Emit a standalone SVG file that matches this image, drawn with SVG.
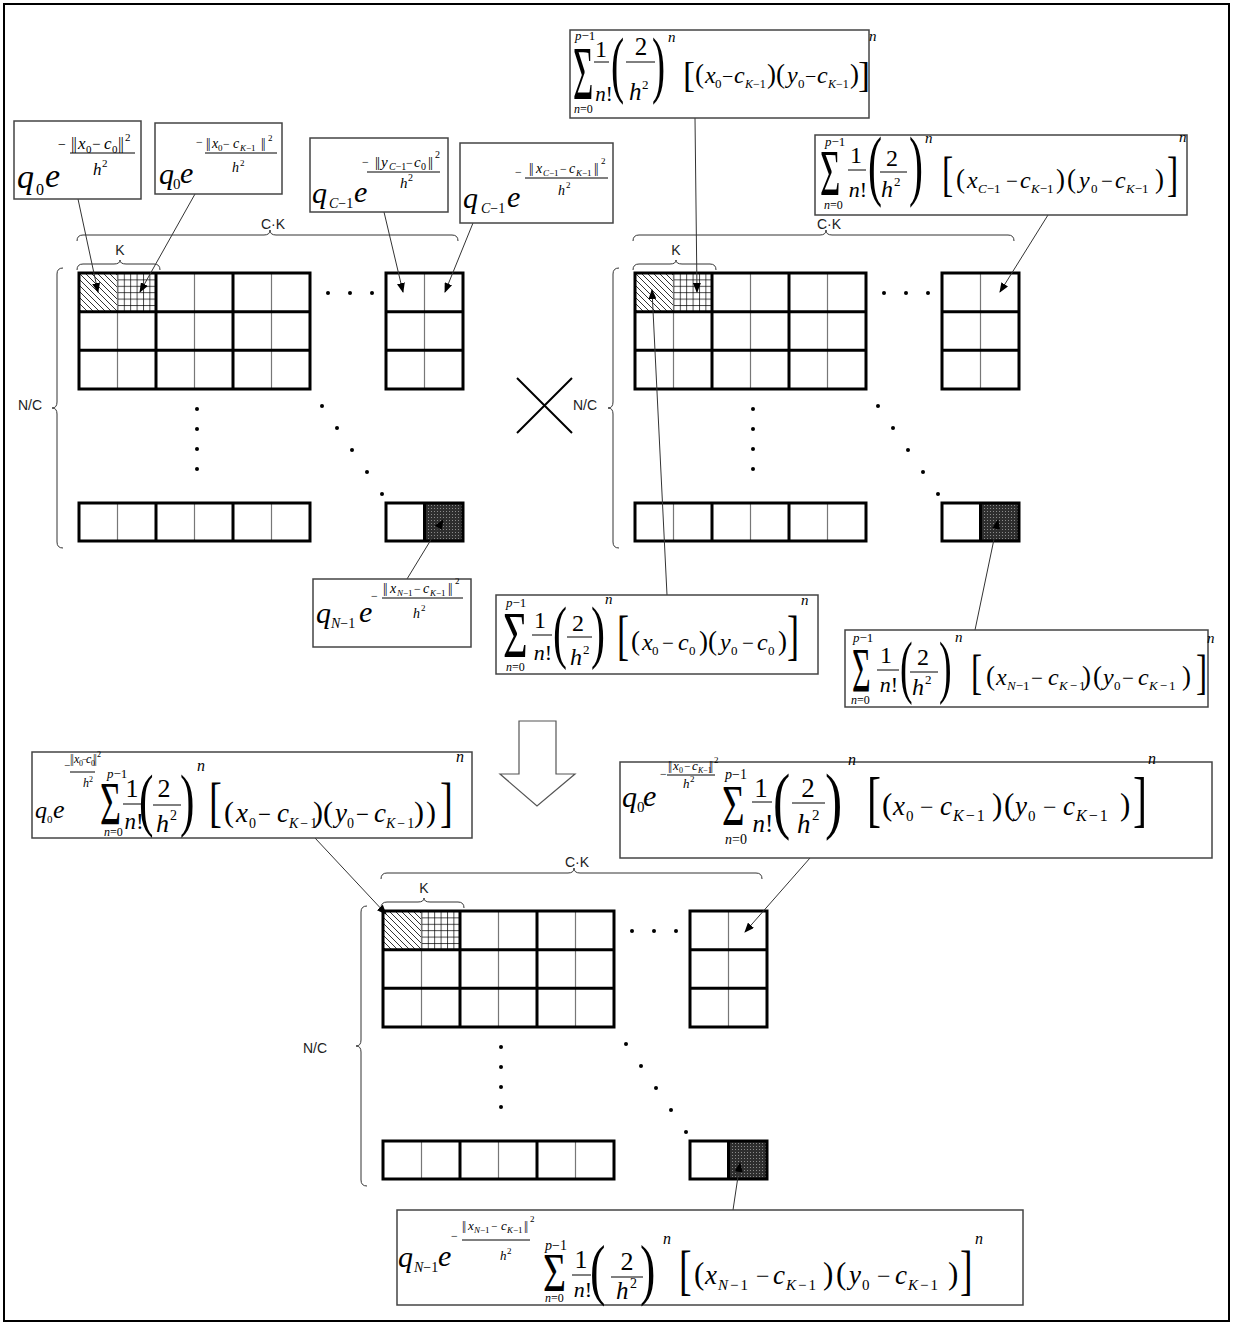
<svg xmlns="http://www.w3.org/2000/svg" xmlns:xlink="http://www.w3.org/1999/xlink" width="1233" height="1325" viewBox="0 0 1233 1325">
<style>
.t{font-family:"Liberation Serif","Times New Roman",serif;fill:#000}
.i{font-style:italic}
.n{font-style:normal}
.nb{letter-spacing:-1px;font-style:normal}
.ks{letter-spacing:2px}
.s{font-family:"Liberation Sans",Arial,sans-serif;font-size:14px;fill:#222}
.box{fill:#fff;stroke:#444;stroke-width:1.5}
.fl{stroke:#000;stroke-width:1}
.ld{stroke:#333;stroke-width:1;fill:none}
.thick{stroke:#000;stroke-width:3;fill:none}
.thin{stroke:#777;stroke-width:1.2;fill:none}
.br{fill:none;stroke:#333;stroke-width:1}
</style>
<defs>
<pattern id="hatch" patternUnits="userSpaceOnUse" width="6" height="6"><path d="M-1,-1L7,7M-1,5L1,7M5,-1L7,1" stroke="#000" stroke-width="0.8"/></pattern>
<pattern id="check" patternUnits="userSpaceOnUse" width="6.4" height="6.4"><path d="M0.5,0V6.4M0,0.5H6.4" stroke="#000" stroke-width="0.7" fill="none"/></pattern>
<pattern id="dark" patternUnits="userSpaceOnUse" width="3" height="3"><rect width="3" height="3" fill="#2e2e2e"/><rect x="1" y="1" width="1" height="1" fill="#8a8a8a"/></pattern>
<marker id="ah" markerWidth="10" markerHeight="8" refX="9" refY="4" orient="auto" markerUnits="userSpaceOnUse"><path d="M0,0L10,4L0,8z" fill="#000"/></marker>
<g id="matrix">
 <rect x="0" y="0" width="38.5" height="38.7" fill="url(#hatch)"/>
 <rect x="38.5" y="0" width="38.5" height="38.7" fill="url(#check)"/>
 <rect x="345.5" y="230" width="38.5" height="38" fill="url(#dark)"/>
 <path class="thin" d="M38.5,0V116M115.5,0V116M192.5,0V116M345.5,0V116M38.5,230V268M115.5,230V268M192.5,230V268"/>
 <path class="thick" d="M0,0H231V116H0ZM77,0V116M154,0V116M0,38.7H231M0,77.3H231M307,0H384V116H307ZM307,38.7H384M307,77.3H384M0,230H231V268H0ZM77,230V268M154,230V268M307,230H384V268H307ZM345.5,230V268"/>
 <g fill="#000">
  <circle cx="249" cy="20" r="2"/><circle cx="271" cy="20" r="2"/><circle cx="293" cy="20" r="2"/>
  <circle cx="118" cy="136" r="2"/><circle cx="118" cy="156" r="2"/><circle cx="118" cy="176" r="2"/><circle cx="118" cy="196" r="2"/>
  <circle cx="243" cy="133" r="2"/><circle cx="258" cy="155" r="2"/><circle cx="273" cy="177" r="2"/><circle cx="288" cy="199" r="2"/><circle cx="303" cy="221" r="2"/>
 </g>
 <path class="br" d="M-2,-32Q-2,-38 4,-38L185,-38Q191,-38 191,-43Q191,-38 197,-38L373,-38Q379,-38 379,-32"/>
 <path class="br" d="M-2,-3Q-2,-9 4,-9L35,-9Q41,-9 41,-13Q41,-9 47,-9L75,-9Q81,-9 81,-3"/>
 <path class="br" d="M-16,-5Q-22,-5 -22,1L-22,129Q-22,135 -27,135Q-22,135 -22,141L-22,269Q-22,275 -16,275"/>
 <text class="s" x="194" y="-44" text-anchor="middle">C·K</text>
 <text class="s" x="41" y="-18" text-anchor="middle">K</text>
</g>
</defs>

<rect x="4" y="4" width="1225" height="1317" fill="#fff" stroke="#000" stroke-width="2"/>

<g id="grid1" transform="translate(79,273)"><use xlink:href="#matrix"/></g>
<text class="s" x="18" y="410">N/C</text>
<g id="grid2" transform="translate(635,273)"><use xlink:href="#matrix"/></g>
<text class="s" x="573" y="410">N/C</text>
<g id="grid3" transform="translate(383,911)"><use xlink:href="#matrix"/></g>
<text class="s" x="303" y="1053">N/C</text>

<g id="times"><path d="M517,378L572,433M572,378L517,433" stroke="#000" stroke-width="2"/></g>
<g id="downarrow"><path d="M519,721H556V774H575L537,806L500,774H519Z" fill="#fff" stroke="#555" stroke-width="1.2"/></g>

<g id="connectors" class="ld">
 <line x1="78" y1="199" x2="98" y2="292" marker-end="url(#ah)"/>
 <line x1="195" y1="194" x2="140" y2="292" marker-end="url(#ah)"/>
 <line x1="384" y1="212" x2="403" y2="292" marker-end="url(#ah)"/>
 <line x1="473" y1="223" x2="445" y2="292" marker-end="url(#ah)"/>
 <line x1="695" y1="118" x2="697" y2="292" marker-end="url(#ah)"/>
 <line x1="1048" y1="215" x2="1000" y2="292" marker-end="url(#ah)"/>
 <line x1="407" y1="579" x2="443" y2="520" marker-end="url(#ah)"/>
 <line x1="667" y1="595" x2="652" y2="290" marker-end="url(#ah)"/>
 <line x1="975" y1="630" x2="998" y2="520" marker-end="url(#ah)"/>
 <line x1="315" y1="838" x2="386" y2="914" marker-end="url(#ah)"/>
 <line x1="810" y1="858" x2="745" y2="932" marker-end="url(#ah)"/>
 <line x1="733" y1="1210" x2="740" y2="1163" marker-end="url(#ah)"/>
</g>

<g id="boxA">
 <rect class="box" x="14" y="121" width="127" height="78"/>
 <text class="t i" x="17" y="188" font-size="34">q</text>
 <text class="t" x="36" y="195" font-size="16">0</text>
 <text class="t i" x="45" y="187" font-size="34">e</text>
 <text class="t" x="58" y="149" font-size="14">−</text>
 <text class="t" font-size="17" y="149"><tspan class="nb" x="71">||</tspan><tspan class="i" x="78">x</tspan><tspan x="86" y="153" font-size="11">0</tspan><tspan x="92" y="149" font-size="15">−</tspan><tspan class="i" x="104">c</tspan><tspan x="112" y="153" font-size="11">0</tspan><tspan class="nb" x="118" y="149">||</tspan><tspan x="125" y="141" font-size="11">2</tspan></text>
 <line class="fl" x1="70" y1="153" x2="135" y2="153"/>
 <text class="t" font-size="17" y="175"><tspan class="i" x="93">h</tspan><tspan x="102" y="167" font-size="11">2</tspan></text>
</g>

<g id="boxB">
 <rect class="box" x="155" y="123" width="127" height="71"/>
 <text class="t i" x="159" y="184" font-size="30">q</text>
 <text class="t" x="173" y="189" font-size="15">0</text>
 <text class="t i" x="180" y="183" font-size="30">e</text>
 <text class="t" x="196" y="146" font-size="12">−</text>
 <text class="t" font-size="14" y="148"><tspan class="nb" x="206">||</tspan><tspan class="i" x="212">x</tspan><tspan x="218" y="151" font-size="9">0</tspan><tspan x="223" y="148" font-size="12">−</tspan><tspan class="i" x="233">c</tspan><tspan x="240" y="151" font-size="9"><tspan class="i">K</tspan>−1</tspan><tspan class="nb" x="261" y="148">||</tspan><tspan x="268" y="141" font-size="9">2</tspan></text>
 <line class="fl" x1="205" y1="153" x2="277" y2="153"/>
 <text class="t" font-size="14" y="172"><tspan class="i" x="232">h</tspan><tspan x="240" y="166" font-size="9">2</tspan></text>
</g>

<g id="boxC">
 <rect class="box" x="310" y="138" width="138" height="74"/>
 <text class="t i" x="312" y="203" font-size="30">q</text>
 <text class="t" x="329" y="208" font-size="14"><tspan class="i">C</tspan>−1</text>
 <text class="t i" x="354" y="202" font-size="30">e</text>
 <text class="t" x="362" y="166" font-size="12">−</text>
 <text class="t" font-size="15" y="167"><tspan class="nb" x="375">||</tspan><tspan class="i" x="381">y</tspan><tspan x="389" y="170" font-size="10"><tspan class="i">C</tspan>−1</tspan><tspan x="406" y="167" font-size="12">−</tspan><tspan class="i" x="414">c</tspan><tspan x="421" y="170" font-size="10">0</tspan><tspan class="nb" x="428" y="167">||</tspan><tspan x="435" y="158" font-size="10">2</tspan></text>
 <line class="fl" x1="367" y1="172" x2="440" y2="172"/>
 <text class="t" font-size="15" y="188"><tspan class="i" x="400">h</tspan><tspan x="408" y="181" font-size="10">2</tspan></text>
</g>

<g id="boxD">
 <rect class="box" x="460" y="143" width="153" height="80"/>
 <text class="t i" x="463" y="208" font-size="30">q</text>
 <text class="t" x="481" y="213" font-size="14"><tspan class="i">C</tspan>−1</text>
 <text class="t i" x="507" y="207" font-size="30">e</text>
 <text class="t" x="515" y="176" font-size="12">−</text>
 <text class="t" font-size="14" y="173"><tspan class="nb" x="529">||</tspan><tspan class="i" x="536">x</tspan><tspan x="543" y="176" font-size="9"><tspan class="i">C</tspan>−1</tspan><tspan x="560" y="173" font-size="12">−</tspan><tspan class="i" x="569">c</tspan><tspan x="576" y="176" font-size="9"><tspan class="i">K</tspan>−1</tspan><tspan class="nb" x="594" y="173">||</tspan><tspan x="601" y="164" font-size="9">2</tspan></text>
 <line class="fl" x1="525" y1="178" x2="608" y2="178"/>
 <text class="t" font-size="14" y="195"><tspan class="i" x="558">h</tspan><tspan x="566" y="188" font-size="9">2</tspan></text>
</g>

<g id="boxE">
 <rect class="box" x="570" y="30" width="299" height="88"/>
 <text class="t" x="575" y="40" font-size="13"><tspan class="i">p</tspan>−1</text>
 <text class="t" font-size="76" transform="translate(573,99) scale(0.46,1)">Σ</text>
 <text class="t" x="574" y="113" font-size="12"><tspan class="i">n</tspan>=0</text>
 <text class="t" x="601" y="57" font-size="24" text-anchor="middle">1</text>
 <line class="fl" x1="594" y1="62" x2="609" y2="62"/>
 <text class="t i" x="604" y="101" font-size="21" text-anchor="middle">n<tspan class="n">!</tspan></text>
 <text class="t" font-size="73" transform="translate(611,89) scale(0.54,1)">(</text>
 <text class="t" x="641" y="55" font-size="25" text-anchor="middle">2</text>
 <line class="fl" x1="626" y1="62" x2="655" y2="62"/>
 <text class="t" font-size="25" y="100"><tspan class="i" x="629">h</tspan><tspan x="642" y="89" font-size="13">2</tspan></text>
 <text class="t" font-size="73" transform="translate(652,89) scale(0.54,1)">)</text>
 <text class="t i" x="668" y="42" font-size="15">n</text>
 <text class="t" x="683" y="87" font-size="36">[</text>
 <text class="t" font-size="24" y="83"><tspan x="695" font-size="27">(</tspan><tspan class="i" x="705">x</tspan><tspan x="715" y="88" font-size="13">0</tspan><tspan x="722" y="83" font-size="20">−</tspan><tspan class="i" x="734">c</tspan><tspan x="745" y="88" font-size="12"><tspan class="i">K</tspan>−1</tspan><tspan x="767" y="83" font-size="27">)(</tspan><tspan class="i" x="787">y</tspan><tspan x="798" y="88" font-size="13">0</tspan><tspan x="805" y="83" font-size="20">−</tspan><tspan class="i" x="817">c</tspan><tspan x="828" y="88" font-size="12"><tspan class="i">K</tspan>−1</tspan><tspan x="850" y="83" font-size="27">)</tspan></text>
 <text class="t" x="858" y="87" font-size="36">]</text>
 <text class="t i" x="869" y="41" font-size="15">n</text>
</g>

<g id="boxF">
 <rect class="box" x="815" y="135" width="372" height="80"/>
 <text class="t" x="825" y="146" font-size="13"><tspan class="i">p</tspan>−1</text>
 <text class="t" font-size="66" transform="translate(820,195) scale(0.53,1)">Σ</text>
 <text class="t" x="824" y="209" font-size="12"><tspan class="i">n</tspan>=0</text>
 <text class="t" x="856" y="163" font-size="24" text-anchor="middle">1</text>
 <line class="fl" x1="848" y1="170" x2="866" y2="170"/>
 <text class="t i" x="858" y="197" font-size="22" text-anchor="middle">n<tspan class="n">!</tspan></text>
 <text class="t" font-size="78" transform="translate(868,191) scale(0.54,1)">(</text>
 <text class="t" x="892" y="166" font-size="24" text-anchor="middle">2</text>
 <line class="fl" x1="880" y1="172" x2="907" y2="172"/>
 <text class="t" font-size="24" y="197"><tspan class="i" x="881">h</tspan><tspan x="894" y="186" font-size="13">2</tspan></text>
 <text class="t" font-size="78" transform="translate(909,191) scale(0.54,1)">)</text>
 <text class="t i" x="925" y="143" font-size="15">n</text>
 <text class="t" font-size="48" transform="translate(942,190) scale(0.7,1)">[</text>
 <text class="t" font-size="24" y="188"><tspan x="956" font-size="27">(</tspan><tspan class="i" x="967">x</tspan><tspan x="978" y="193" font-size="13"><tspan class="i">C</tspan>−1</tspan><tspan x="1006" y="188" font-size="21">−</tspan><tspan class="i" x="1020">c</tspan><tspan x="1031" y="193" font-size="13"><tspan class="i">K</tspan>−1</tspan><tspan x="1056" y="188" font-size="27">)</tspan><tspan x="1067" font-size="27">(</tspan><tspan class="i" x="1079">y</tspan><tspan x="1091" y="193" font-size="13">0</tspan><tspan x="1101" y="188" font-size="21">−</tspan><tspan class="i" x="1115">c</tspan><tspan x="1126" y="193" font-size="13"><tspan class="i">K</tspan>−1</tspan><tspan x="1155" y="188" font-size="27">)</tspan></text>
 <text class="t" font-size="48" transform="translate(1167,190) scale(0.7,1)">]</text>
 <text class="t i" x="1179" y="142" font-size="15">n</text>
</g>

<g id="boxG">
 <rect class="box" x="313" y="579" width="158" height="68"/>
 <text class="t i" x="316" y="623" font-size="30">q</text>
 <text class="t" x="331" y="628" font-size="14"><tspan class="i">N</tspan>−1</text>
 <text class="t i" x="359" y="622" font-size="30">e</text>
 <text class="t" x="371" y="600" font-size="12">−</text>
 <text class="t" font-size="14" y="593"><tspan class="nb" x="383">||</tspan><tspan class="i" x="390">x</tspan><tspan x="397" y="596" font-size="9"><tspan class="i">N</tspan>−1</tspan><tspan x="414" y="593" font-size="12">−</tspan><tspan class="i" x="423">c</tspan><tspan x="430" y="596" font-size="9"><tspan class="i">K</tspan>−1</tspan><tspan class="nb" x="448" y="593">||</tspan><tspan x="455" y="584" font-size="9">2</tspan></text>
 <line class="fl" x1="382" y1="598" x2="463" y2="598"/>
 <text class="t" font-size="14" y="618"><tspan class="i" x="413">h</tspan><tspan x="421" y="611" font-size="9">2</tspan></text>
</g>

<g id="boxH">
 <rect class="box" x="496" y="595" width="322" height="79"/>
 <text class="t" x="506" y="607" font-size="13"><tspan class="i">p</tspan>−1</text>
 <text class="t" font-size="66" transform="translate(503,657) scale(0.64,1)">Σ</text>
 <text class="t" x="506" y="671" font-size="12"><tspan class="i">n</tspan>=0</text>
 <text class="t" x="540" y="628" font-size="24" text-anchor="middle">1</text>
 <line class="fl" x1="532" y1="635" x2="552" y2="635"/>
 <text class="t i" x="543" y="660" font-size="22" text-anchor="middle">n<tspan class="n">!</tspan></text>
 <text class="t" font-size="70" transform="translate(553,655) scale(0.6,1)">(</text>
 <text class="t" x="578" y="631" font-size="24" text-anchor="middle">2</text>
 <line class="fl" x1="567" y1="637" x2="592" y2="637"/>
 <text class="t" font-size="24" y="665"><tspan class="i" x="570">h</tspan><tspan x="583" y="654" font-size="13">2</tspan></text>
 <text class="t" font-size="70" transform="translate(591,655) scale(0.6,1)">)</text>
 <text class="t i" x="605" y="604" font-size="15">n</text>
 <text class="t" font-size="54" transform="translate(617,654) scale(0.67,1)">[</text>
 <text class="t" font-size="24" y="650"><tspan x="631" font-size="27">(</tspan><tspan class="i" x="642">x</tspan><tspan x="652" y="655" font-size="13">0</tspan><tspan x="662" y="650" font-size="21">−</tspan><tspan class="i" x="678">c</tspan><tspan x="689" y="655" font-size="13">0</tspan><tspan x="699" y="650" font-size="27">)(</tspan><tspan class="i" x="720">y</tspan><tspan x="731" y="655" font-size="13">0</tspan><tspan x="742" y="650" font-size="21">−</tspan><tspan class="i" x="757">c</tspan><tspan x="768" y="655" font-size="13">0</tspan><tspan x="778" y="650" font-size="27">)</tspan></text>
 <text class="t" font-size="54" transform="translate(787,654) scale(0.67,1)">]</text>
 <text class="t i" x="801" y="605" font-size="15">n</text>
</g>

<g id="boxI">
 <rect class="box" x="845" y="630" width="363" height="77"/>
 <text class="t" x="853" y="642" font-size="13"><tspan class="i">p</tspan>−1</text>
 <text class="t" font-size="64" transform="translate(852,692) scale(0.5,1)">Σ</text>
 <text class="t" x="851" y="704" font-size="12"><tspan class="i">n</tspan>=0</text>
 <text class="t" x="886" y="663" font-size="24" text-anchor="middle">1</text>
 <line class="fl" x1="877" y1="670" x2="899" y2="670"/>
 <text class="t i" x="889" y="692" font-size="22" text-anchor="middle">n<tspan class="n">!</tspan></text>
 <text class="t" font-size="69" transform="translate(900,690) scale(0.55,1)">(</text>
 <text class="t" x="923" y="665" font-size="24" text-anchor="middle">2</text>
 <line class="fl" x1="910" y1="672" x2="938" y2="672"/>
 <text class="t" font-size="24" y="695"><tspan class="i" x="912">h</tspan><tspan x="925" y="684" font-size="13">2</tspan></text>
 <text class="t" font-size="69" transform="translate(939,690) scale(0.55,1)">)</text>
 <text class="t i" x="955" y="642" font-size="15">n</text>
 <text class="t" font-size="49" transform="translate(971,688) scale(0.68,1)">[</text>
 <text class="t" font-size="24" y="685"><tspan x="986" font-size="27">(</tspan><tspan class="i" x="996">x</tspan><tspan x="1007" y="690" font-size="13"><tspan class="i">N</tspan>−1</tspan><tspan x="1031" y="685" font-size="21">−</tspan><tspan class="i" x="1048">c</tspan><tspan x="1059" y="690" font-size="13" class="ks"><tspan class="i">K</tspan>−1</tspan><tspan x="1082" y="685" font-size="27">)</tspan><tspan x="1093" font-size="27">(</tspan><tspan class="i" x="1103">y</tspan><tspan x="1114" y="690" font-size="13">0</tspan><tspan x="1122" y="685" font-size="21">−</tspan><tspan class="i" x="1138">c</tspan><tspan x="1149" y="690" font-size="13" class="ks"><tspan class="i">K</tspan>−1</tspan><tspan x="1182" y="685" font-size="27">)</tspan></text>
 <text class="t" font-size="49" transform="translate(1196,688) scale(0.68,1)">]</text>
 <text class="t i" x="1207" y="643" font-size="15">n</text>
</g>

<g id="boxJ">
 <rect class="box" x="32" y="752" width="440" height="86"/>
 <text class="t i" x="35" y="818" font-size="24">q</text>
 <text class="t" x="47" y="823" font-size="11">0</text>
 <text class="t i" x="53" y="818" font-size="26">e</text>
 <text class="t" x="64" y="769" font-size="11">−</text>
 <text class="t" font-size="12" y="763"><tspan class="nb" x="70">||</tspan><tspan class="i" x="74">x</tspan><tspan x="79" y="766" font-size="8">0</tspan><tspan x="82" y="763" font-size="10">−</tspan><tspan class="i" x="86">c</tspan><tspan x="91" y="766" font-size="8">0</tspan><tspan class="nb" x="93" y="763">||</tspan><tspan x="97" y="757" font-size="8">2</tspan></text>
 <line class="fl" x1="70" y1="772" x2="95" y2="772"/>
 <text class="t" font-size="12" y="787"><tspan class="i" x="83">h</tspan><tspan x="89" y="782" font-size="8">2</tspan></text>
 <text class="t" x="107" y="778" font-size="13"><tspan class="i">p</tspan>−1</text>
 <text class="t" font-size="62" transform="translate(100,824) scale(0.58,1)">Σ</text>
 <text class="t" x="104" y="836" font-size="12"><tspan class="i">n</tspan>=0</text>
 <text class="t" x="132" y="797" font-size="26" text-anchor="middle">1</text>
 <line class="fl" x1="123" y1="804" x2="142" y2="804"/>
 <text class="t i" x="134" y="829" font-size="23" text-anchor="middle">n<tspan class="n">!</tspan></text>
 <text class="t" font-size="70" transform="translate(139,823) scale(0.62,1)">(</text>
 <text class="t" x="164" y="797" font-size="26" text-anchor="middle">2</text>
 <line class="fl" x1="153" y1="805" x2="181" y2="805"/>
 <text class="t" font-size="26" y="832"><tspan class="i" x="156">h</tspan><tspan x="170" y="820" font-size="14">2</tspan></text>
 <text class="t" font-size="70" transform="translate(180,823) scale(0.62,1)">)</text>
 <text class="t i" x="197" y="771" font-size="16">n</text>
 <text class="t" font-size="55" transform="translate(209,821) scale(0.7,1)">[</text>
 <text class="t" font-size="27" y="822"><tspan x="224" font-size="30">(</tspan><tspan class="i" x="236">x</tspan><tspan x="249" y="828" font-size="14">0</tspan><tspan x="258" y="822" font-size="23">−</tspan><tspan class="i" x="277">c</tspan><tspan x="289" y="828" font-size="14" class="ks"><tspan class="i">K</tspan>−1</tspan><tspan x="313" y="822" font-size="30">)(</tspan><tspan class="i" x="335">y</tspan><tspan x="347" y="828" font-size="14">0</tspan><tspan x="356" y="822" font-size="23">−</tspan><tspan class="i" x="374">c</tspan><tspan x="386" y="828" font-size="14" class="ks"><tspan class="i">K</tspan>−1</tspan><tspan x="414" y="822" font-size="30">)</tspan><tspan x="426" font-size="30">)</tspan></text>
 <text class="t" font-size="55" transform="translate(440,821) scale(0.7,1)">]</text>
 <text class="t i" x="456" y="762" font-size="16">n</text>
</g>

<g id="boxK">
 <rect class="box" x="620" y="762" width="592" height="96"/>
 <text class="t i" x="622" y="807" font-size="30">q</text>
 <text class="t" x="637" y="812" font-size="15">0</text>
 <text class="t i" x="643" y="806" font-size="30">e</text>
 <text class="t" x="660" y="778" font-size="12">−</text>
 <text class="t" font-size="13" y="770"><tspan class="nb" x="668">||</tspan><tspan class="i" x="673">x</tspan><tspan x="679" y="773" font-size="8">0</tspan><tspan x="684" y="770" font-size="11">−</tspan><tspan class="i" x="692">c</tspan><tspan x="698" y="773" font-size="8"><tspan class="i">K</tspan>−1</tspan><tspan class="nb" x="709" y="770">||</tspan><tspan x="714" y="763" font-size="9">2</tspan></text>
 <line class="fl" x1="667" y1="775" x2="715" y2="775"/>
 <text class="t" font-size="13" y="788"><tspan class="i" x="683">h</tspan><tspan x="690" y="782" font-size="9">2</tspan></text>
 <text class="t" x="725" y="779" font-size="14"><tspan class="i">p</tspan>−1</text>
 <text class="t" font-size="57" transform="translate(722,825) scale(0.68,1)">Σ</text>
 <text class="t" x="725" y="844" font-size="14"><tspan class="i">n</tspan>=0</text>
 <text class="t" x="761" y="797" font-size="27" text-anchor="middle">1</text>
 <line class="fl" x1="752" y1="802" x2="772" y2="802"/>
 <text class="t i" x="763" y="832" font-size="25" text-anchor="middle">n<tspan class="n">!</tspan></text>
 <text class="t" font-size="74" transform="translate(773,825) scale(0.7,1)">(</text>
 <text class="t" x="808" y="797" font-size="27" text-anchor="middle">2</text>
 <line class="fl" x1="792" y1="803" x2="825" y2="803"/>
 <text class="t" font-size="27" y="833"><tspan class="i" x="797">h</tspan><tspan x="812" y="820" font-size="15">2</tspan></text>
 <text class="t" font-size="74" transform="translate(825,825) scale(0.7,1)">)</text>
 <text class="t i" x="848" y="765" font-size="16">n</text>
 <text class="t" font-size="61" transform="translate(867,820) scale(0.69,1)">[</text>
 <text class="t" font-size="27" y="815"><tspan x="882" font-size="31">(</tspan><tspan class="i" x="893">x</tspan><tspan x="906" y="821" font-size="15">0</tspan><tspan x="920" y="815" font-size="24">−</tspan><tspan class="i" x="940">c</tspan><tspan x="953" y="821" font-size="16" class="ks"><tspan class="i">K</tspan>−1</tspan><tspan x="992" y="815" font-size="31">)</tspan><tspan x="1004" font-size="31">(</tspan><tspan class="i" x="1015">y</tspan><tspan x="1028" y="821" font-size="15">0</tspan><tspan x="1043" y="815" font-size="24">−</tspan><tspan class="i" x="1063">c</tspan><tspan x="1076" y="821" font-size="16" class="ks"><tspan class="i">K</tspan>−1</tspan><tspan x="1120" y="815" font-size="31">)</tspan></text>
 <text class="t" font-size="61" transform="translate(1133,820) scale(0.69,1)">]</text>
 <text class="t i" x="1148" y="764" font-size="16">n</text>
</g>

<g id="boxL">
 <rect class="box" x="397" y="1210" width="626" height="95"/>
 <text class="t i" x="398" y="1267" font-size="30">q</text>
 <text class="t" x="414" y="1272" font-size="14"><tspan class="i">N</tspan>−1</text>
 <text class="t i" x="438" y="1266" font-size="30">e</text>
 <text class="t" x="451" y="1240" font-size="12">−</text>
 <text class="t" font-size="13" y="1230"><tspan class="nb" x="462">||</tspan><tspan class="i" x="468">x</tspan><tspan x="474" y="1233" font-size="9"><tspan class="i">N</tspan>−1</tspan><tspan x="491" y="1230" font-size="11">−</tspan><tspan class="i" x="501">c</tspan><tspan x="507" y="1233" font-size="9"><tspan class="i">K</tspan>−1</tspan><tspan class="nb" x="524" y="1230">||</tspan><tspan x="530" y="1222" font-size="9">2</tspan></text>
 <line class="fl" x1="462" y1="1240" x2="530" y2="1240"/>
 <text class="t" font-size="13" y="1260"><tspan class="i" x="500">h</tspan><tspan x="507" y="1254" font-size="9">2</tspan></text>
 <text class="t" x="545" y="1250" font-size="14"><tspan class="i">p</tspan>−1</text>
 <text class="t" font-size="55" transform="translate(543,1291) scale(0.72,1)">Σ</text>
 <text class="t" x="545" y="1302" font-size="12"><tspan class="i">n</tspan>=0</text>
 <text class="t" x="581" y="1268" font-size="26" text-anchor="middle">1</text>
 <line class="fl" x1="572" y1="1275" x2="591" y2="1275"/>
 <text class="t i" x="583" y="1297" font-size="22" text-anchor="middle">n<tspan class="n">!</tspan></text>
 <text class="t" font-size="68" transform="translate(590,1292) scale(0.68,1)">(</text>
 <text class="t" x="627" y="1270" font-size="26" text-anchor="middle">2</text>
 <line class="fl" x1="611" y1="1277" x2="643" y2="1277"/>
 <text class="t" font-size="25" y="1299"><tspan class="i" x="616">h</tspan><tspan x="630" y="1288" font-size="14">2</tspan></text>
 <text class="t" font-size="68" transform="translate(640,1292) scale(0.68,1)">)</text>
 <text class="t i" x="663" y="1244" font-size="16">n</text>
 <text class="t" font-size="54" transform="translate(679,1289) scale(0.7,1)">[</text>
 <text class="t" font-size="27" y="1284"><tspan x="694" font-size="31">(</tspan><tspan class="i" x="705">x</tspan><tspan x="718" y="1290" font-size="15" class="ks"><tspan class="i">N</tspan>−1</tspan><tspan x="756" y="1284" font-size="24">−</tspan><tspan class="i" x="773">c</tspan><tspan x="786" y="1290" font-size="15" class="ks"><tspan class="i">K</tspan>−1</tspan><tspan x="823" y="1284" font-size="31">)</tspan><tspan x="836" font-size="31">(</tspan><tspan class="i" x="849">y</tspan><tspan x="862" y="1290" font-size="15">0</tspan><tspan x="877" y="1284" font-size="24">−</tspan><tspan class="i" x="895">c</tspan><tspan x="908" y="1290" font-size="15" class="ks"><tspan class="i">K</tspan>−1</tspan><tspan x="948" y="1284" font-size="31">)</tspan></text>
 <text class="t" font-size="54" transform="translate(960,1289) scale(0.7,1)">]</text>
 <text class="t i" x="975" y="1244" font-size="16">n</text>
</g>
</svg>
